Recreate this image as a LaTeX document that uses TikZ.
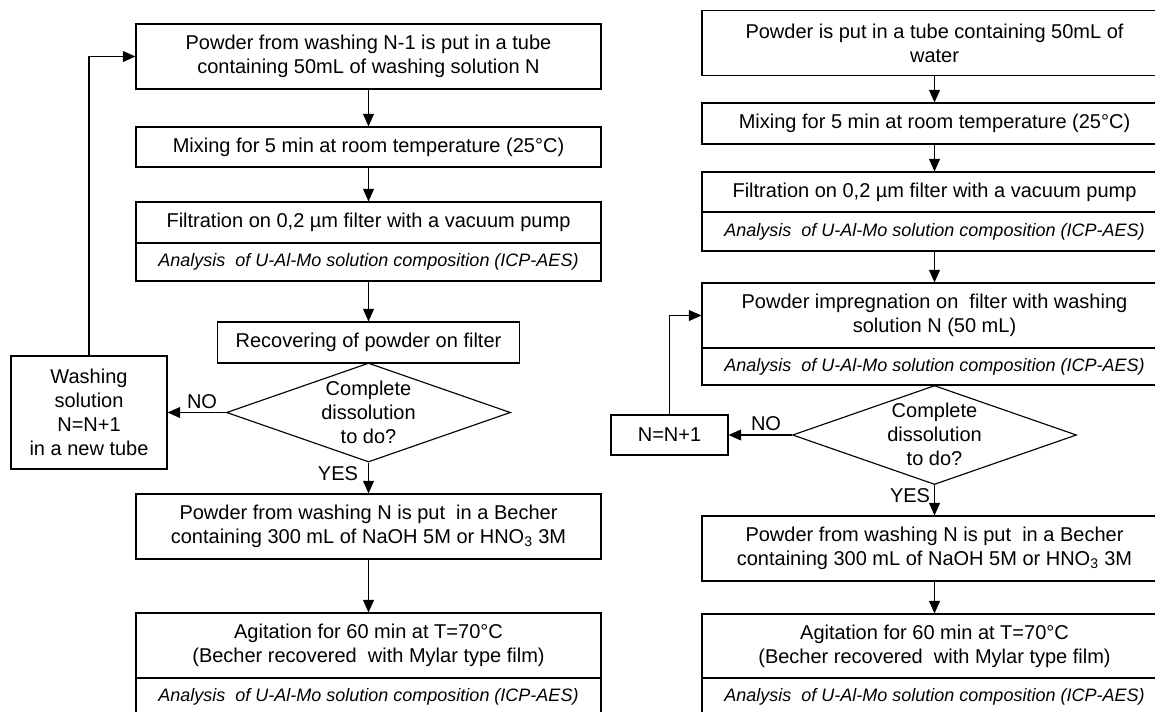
\documentclass[tikz,border=0pt]{standalone}
\usepackage{fontspec}
\setmainfont{Liberation Sans}
\usetikzlibrary{arrows.meta,shapes.geometric}
\newcommand\dtxt[1]{\makebox[0pt]{\raisebox{-5pt}[0pt][0pt]{\begin{tabular}{@{}c@{}}#1\end{tabular}}}}
\newcommand\anafont{\fontsize{13.5pt}{16pt}\selectfont\itshape}
\begin{document}
\begin{tikzpicture}[x=0.75pt,y=-0.75pt,
  every node/.style={font=\fontsize{15pt}{18pt}\selectfont},
  box/.style={draw,line width=0.85pt,inner sep=0pt,align=center},
  bx/.style={box,minimum width=465*0.75pt,minimum height=#1*0.75pt},
  ana/.style={bx=#1,font=\anafont},
  dia/.style={draw,shape=diamond,line width=0.85pt,inner sep=0pt,
    minimum width=284*0.75pt,minimum height=99*0.75pt},
  arr/.style={line width=0.85pt,-{Triangle[length=9.5pt,width=8.25pt]}},
  lbl/.style={inner sep=0pt}]
\begin{scope}
\clip (0,0) rectangle (1155,711);
% ---------- left column ----------
\node[bx=65] (L1) at (368.5,56.5) {Powder from washing N-1 is put in a tube\\containing 50mL of washing solution N};
\node[bx=40] (L2) at (368.5,147) {Mixing for 5 min at room temperature (25°C)};
\node[bx=41] (L3) at (368.5,222.5) {Filtration on 0,2 µm filter with a vacuum pump};
\node[ana=38] (L3a) at (368.5,262) {Analysis\ \ of U-Al-Mo solution composition (ICP-AES)};
\node[box,minimum width=302*0.75pt,minimum height=41*0.75pt] (Lrec) at (368.5,342.5) {Recovering of powder on filter};
\node[dia] (Ld) at (368.5,412.5) {\dtxt{Complete\\dissolution\\to do?}};
\node[box,minimum width=156*0.75pt,minimum height=113*0.75pt] (Lw) at (89,412.5) {Washing\\solution\\N=N+1\\in a new tube};
\node[bx=65] (L5) at (368.5,526.5) {Powder from washing N is put\ \ in a Becher\\containing 300 mL of NaOH 5M or HNO\textsubscript{3} 3M};
\node[bx=65] (L6) at (368.5,645.5) {Agitation for 60 min at T=70°C\\(Becher recovered\ \ with Mylar type film)};
\node[ana=38] (L6a) at (368.5,697) {Analysis\ \ of U-Al-Mo solution composition (ICP-AES)};
\node[lbl] (Lno) at (202,402) {NO};
\node[lbl] (Lyes) at (338,474) {YES};
\draw[arr] (L1.south) -- (L2.north);
\draw[arr] (L2.south) -- (L3.north);
\draw[arr] (L3a.south) -- (Lrec.north);
\draw[arr] (Ld.west) -- (Lw.east);
\draw[arr] (Ld.south) -- (L5.north);
\draw[arr] (L5.south) -- (L6.north);
\draw[arr] (Lw.north) |- (L1.west);
% ---------- right column ----------
\node[bx=65] (R1) at (934.5,43.4) {Powder is put in a tube containing 50mL of\\water};
\node[bx=41] (R2) at (934.5,123.5) {Mixing for 5 min at room temperature (25°C)};
\node[bx=40] (R3) at (934.5,192) {Filtration on 0,2 µm filter with a vacuum pump};
\node[ana=39] (R3a) at (934.5,231.5) {Analysis\ \ of U-Al-Mo solution composition (ICP-AES)};
\node[bx=65] (R4) at (934.5,315.5) {Powder impregnation on\ \ filter with washing\\solution N (50 mL)};
\node[ana=37] (R4a) at (934.5,366.5) {Analysis\ \ of U-Al-Mo solution composition (ICP-AES)};
\node[dia] (Rd) at (934.5,435) {\dtxt{Complete\\dissolution\\to do?}};
\node[box,minimum width=117*0.75pt,minimum height=40*0.75pt] (Rn) at (669.5,435) {N=N+1};
\node[bx=65] (R5) at (934.5,548.5) {Powder from washing N is put\ \ in a Becher\\containing 300 mL of NaOH 5M or HNO\textsubscript{3} 3M};
\node[bx=64] (R6) at (934.5,646) {Agitation for 60 min at T=70°C\\(Becher recovered\ \ with Mylar type film)};
\node[ana=38] (R6a) at (934.5,697) {Analysis\ \ of U-Al-Mo solution composition (ICP-AES)};
\node[lbl] (Rno) at (766,424) {NO};
\node[lbl] (Ryes) at (910,496) {YES};
\draw[arr] (R1.south) -- (R2.north);
\draw[arr] (R2.south) -- (R3.north);
\draw[arr] (R3a.south) -- (R4.north);
\draw[arr] (Rd.west) -- (Rn.east);
\draw[arr] (Rd.south) -- (R5.north);
\draw[arr] (R5.south) -- (R6.north);
\draw[arr] (Rn.north) |- (R4.west);
\end{scope}
\useasboundingbox (0,0) rectangle (1155,711);
\end{tikzpicture}
\end{document}
